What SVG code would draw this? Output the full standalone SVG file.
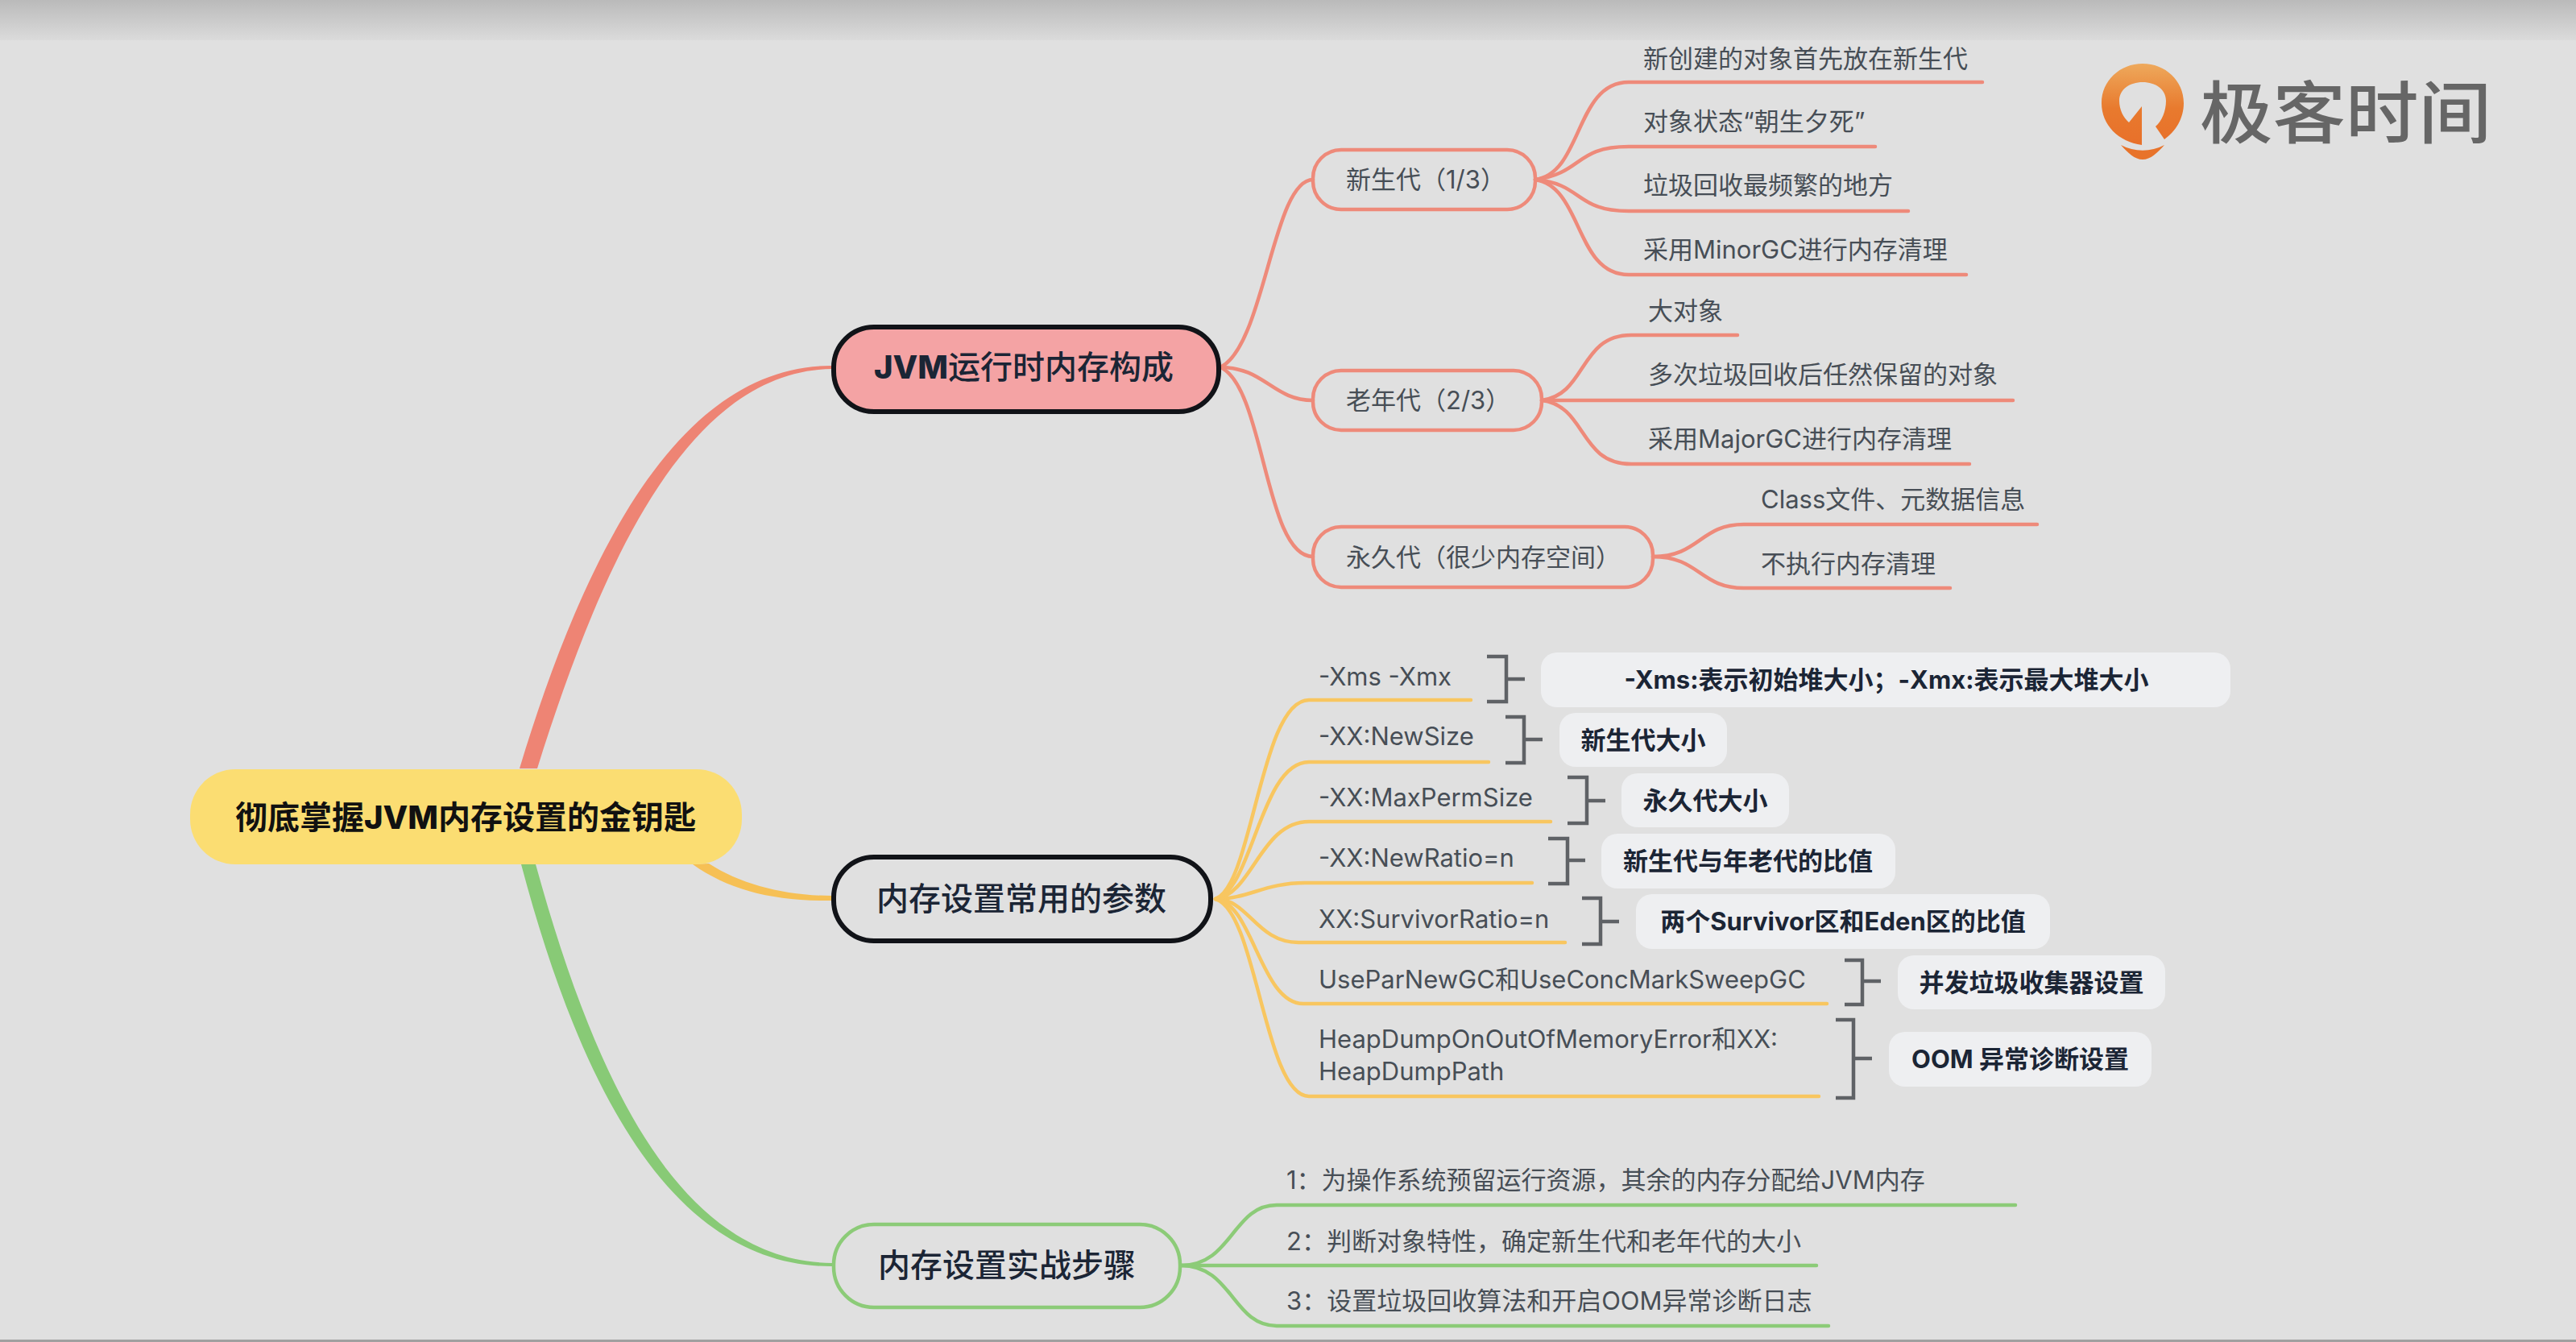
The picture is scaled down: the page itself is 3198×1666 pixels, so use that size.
<svg xmlns="http://www.w3.org/2000/svg" width="3198" height="1666" viewBox="0 0 3198 1666">
<style>
text{font-family:"Inter","Noto Sans CJK SC","Noto Sans",sans-serif}
.t{font-size:31px;fill:#474e56}
.b{font-size:31px;font-weight:700;fill:#1b2535}
.h{font-size:40px;font-weight:500;fill:#1b2535}
.k{font-weight:800}
.c{text-anchor:middle}
.l{fill:none;stroke-width:4.5;stroke-linecap:round}
.r{stroke:#ee8a7a}.o{stroke:#f8c660}.g{stroke:#8ccb78}
.br{fill:none;stroke:#5f6266;stroke-width:4.5}
.s{fill:#eeeff1}
</style>
<defs>
<linearGradient id="top" x1="0" y1="0" x2="0" y2="1"><stop offset="0" stop-color="#bababa"/><stop offset="1" stop-color="#dbdbdb"/></linearGradient>
<linearGradient id="pin" x1="0" y1="0" x2="0" y2="1"><stop offset="0" stop-color="#eea95c"/><stop offset=".55" stop-color="#e87a2e"/><stop offset="1" stop-color="#e8702a"/></linearGradient>
</defs>
<rect width="3198" height="1666" fill="#e0e0e0"/>
<rect width="3198" height="50" fill="url(#top)"/>
<rect y="1663" width="3198" height="3" fill="#a0a0a0"/>
<g id="connectors">
<path d="M645 954C722 700 838 453 1033 454V458C852 460 745 705 667 954Z" fill="#ee8474"/>
<path d="M880 1072C920 1098 975 1112 1033 1112V1118C960 1119 905 1105 860 1073Z" fill="#f6c055"/>
<path d="M647 1073C722 1355 836 1573 1033 1572V1568C845 1566 740 1345 665 1073Z" fill="#88ca76"/>
<g class="l r">
<path d="M1515 456C1570 430 1580 223 1630 223"/>
<path d="M1515 456C1570 456 1580 497 1630 497"/>
<path d="M1515 456C1570 480 1570 691 1630 691"/>
<path d="M1906 223C1965 215 1955 102 2022 102H2461"/>
<path d="M1906 223C1965 215 1955 182 2022 182H2328"/>
<path d="M1906 223C1965 228 1955 262 2022 262H2369"/>
<path d="M1906 223C1965 232 1955 341 2022 341H2441"/>
<path d="M1914 497C1970 490 1960 416 2025 416H2157"/>
<path d="M1914 497H2499"/>
<path d="M1914 497C1970 504 1960 576 2025 576H2445"/>
<path d="M2052 691C2110 691 2110 651 2165 651H2529"/>
<path d="M2052 691C2110 691 2110 730 2165 730H2421"/>
</g>
<g class="l o">
<path d="M1509 1116C1555 1100 1565 869 1625 869H1826"/>
<path d="M1509 1116C1555 1105 1565 946 1625 946H1848"/>
<path d="M1509 1116C1555 1110 1565 1020 1625 1020H1925"/>
<path d="M1509 1116C1550 1116 1570 1096 1620 1096H1902"/>
<path d="M1509 1116C1550 1116 1560 1170 1612 1170H1943"/>
<path d="M1509 1116C1555 1120 1565 1246 1618 1246H2268"/>
<path d="M1509 1116C1560 1130 1570 1361 1625 1361H2258"/>
</g>
<g class="l g">
<path d="M1466 1571C1530 1571 1530 1496 1585 1496H2502"/>
<path d="M1466 1571H2255"/>
<path d="M1466 1571C1530 1571 1530 1646 1585 1646H2270"/>
</g>
</g>
<g id="root"><rect x="236" y="955" width="685" height="118" rx="56" fill="#fbdd72"/><text class="h c" x="578" y="1029" style="font-weight:700;fill:#111">彻底掌握<tspan class="k">JVM</tspan>内存设置的金钥匙</text></g>
<g id="n-jvm"><rect x="1035" y="406" width="478" height="105" rx="50" fill="#f4a3a4" stroke="#111318" stroke-width="6"/><text class="h c" x="1271" y="470"><tspan class="k">JVM</tspan>运行时内存构成</text></g>
<g id="n-params"><rect x="1035" y="1064" width="468" height="104" rx="50" fill="none" stroke="#111318" stroke-width="6"/><text class="h c" x="1268" y="1130">内存设置常用的参数</text></g>
<g id="n-steps"><rect x="1035" y="1520" width="430" height="103" rx="50" fill="none" stroke="#8ccb78" stroke-width="4.5"/><text class="h c" x="1250" y="1585">内存设置实战步骤</text></g>
<g id="n-young"><rect x="1630" y="186" width="276" height="74" rx="35" fill="none" stroke="#ee8a7a" stroke-width="4.5"/><text class="t" x="1671" y="234">新生代（1/3）</text></g>
<g id="n-old"><rect x="1630" y="460" width="284" height="74" rx="35" fill="none" stroke="#ee8a7a" stroke-width="4.5"/><text class="t" x="1671" y="508">老年代（2/3）</text></g>
<g id="n-perm"><rect x="1630" y="654" width="422" height="75" rx="35" fill="none" stroke="#ee8a7a" stroke-width="4.5"/><text class="t" x="1671" y="703">永久代（很少内存空间）</text></g>
<g id="l-young">
<text class="t" x="2040" y="84">新创建的对象首先放在新生代</text>
<text class="t" x="2040" y="162">对象状态“朝生夕死”</text>
<text class="t" x="2040" y="241">垃圾回收最频繁的地方</text>
<text class="t" x="2040" y="321">采用MinorGC进行内存清理</text>
</g>
<g id="l-old">
<text class="t" x="2046" y="397">大对象</text>
<text class="t" x="2046" y="476">多次垃圾回收后任然保留的对象</text>
<text class="t" x="2046" y="556">采用MajorGC进行内存清理</text>
</g>
<g id="l-perm">
<text class="t" x="2186" y="631">Class文件、元数据信息</text>
<text class="t" x="2186" y="711">不执行内存清理</text>
</g>
<g id="p1"><text class="t" x="1637" y="851">-Xms -Xmx</text><path class="br" d="M1846 815H1870V871H1846M1870 843H1893"/><rect class="s" x="1913" y="810" width="856" height="68" rx="20"/><text class="b c" x="2342" y="855">-Xms:表示初始堆大小；-Xmx:表示最大堆大小</text></g>
<g id="p2"><text class="t" x="1637" y="925">-XX:NewSize</text><path class="br" d="M1869 890H1892V947H1869M1892 918H1915"/><rect class="s" x="1936" y="885" width="208" height="67" rx="20"/><text class="b c" x="2040" y="930">新生代大小</text></g>
<g id="p3"><text class="t" x="1637" y="1001">-XX:MaxPermSize</text><path class="br" d="M1946 965H1970V1022H1946M1970 994H1993"/><rect class="s" x="2013" y="960" width="208" height="67" rx="20"/><text class="b c" x="2117" y="1005">永久代大小</text></g>
<g id="p4"><text class="t" x="1637" y="1076">-XX:NewRatio=n</text><path class="br" d="M1922 1041H1946V1097H1922M1946 1068H1968"/><rect class="s" x="1988" y="1035" width="365" height="68" rx="20"/><text class="b c" x="2170" y="1080">新生代与年老代的比值</text></g>
<g id="p5"><text class="t" x="1637" y="1152">XX:SurvivorRatio=n</text><path class="br" d="M1964 1115H1987V1172H1964M1987 1144H2010"/><rect class="s" x="2031" y="1110" width="514" height="68" rx="20"/><text class="b c" x="2288" y="1155">两个Survivor区和Eden区的比值</text></g>
<g id="p6"><text class="t" x="1637" y="1227">UseParNewGC和UseConcMarkSweepGC</text><path class="br" d="M2290 1192H2312V1247H2290M2312 1218H2335"/><rect class="s" x="2356" y="1186" width="332" height="67" rx="20"/><text class="b c" x="2522" y="1231">并发垃圾收集器设置</text></g>
<g id="p7"><text class="t" x="1637" y="1301">HeapDumpOnOutOfMemoryError和XX:</text><text class="t" x="1637" y="1341">HeapDumpPath</text><path class="br" d="M2279 1266H2301V1363H2279M2301 1314H2324"/><rect class="s" x="2345" y="1281" width="326" height="68" rx="20"/><text class="b c" x="2508" y="1326">OOM 异常诊断设置</text></g>
<g id="l-steps">
<text class="t" x="1597" y="1476">1：为操作系统预留运行资源，其余的内存分配给JVM内存</text>
<text class="t" x="1597" y="1552">2：判断对象特性，确定新生代和老年代的大小</text>
<text class="t" x="1597" y="1626">3：设置垃圾回收算法和开启OOM异常诊断日志</text>
</g>
<g id="logo">
<path d="M2659 180C2630 176 2609 155 2609 128C2609 100 2632 79 2660 79C2688 79 2711 100 2711 128C2711 147 2701 163 2687 173L2676 157C2684 150 2689 138 2689 125C2689 111 2676 102 2660 102C2644 102 2631 111 2631 125C2631 136 2636 146 2643 152L2659 132Z" fill="url(#pin)"/>
<path d="M2633 180C2650 189 2670 189 2687 180C2678 190 2670 198 2660 198C2650 198 2642 190 2633 180Z" fill="#e8732a"/>
<text x="2731" y="171" font-size="84" textLength="362" lengthAdjust="spacingAndGlyphs" style="fill:#666;font-weight:500">极客时间</text>
</g>
</svg>
